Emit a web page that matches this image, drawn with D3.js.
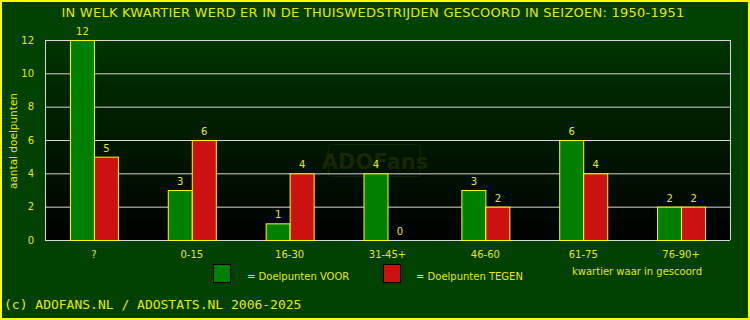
<!DOCTYPE html>
<html><head><meta charset="utf-8">
<script src="https://cdn.jsdelivr.net/npm/d3@7"></script>
<style>html,body{margin:0;padding:0;background:#004000;}svg{display:block;}</style>
</head><body>
<script>
const categories = ["?", "0-15", "16-30", "31-45+", "46-60", "61-75", "76-90+"];
const voor = [12, 3, 1, 4, 3, 6, 2];
const tegen = [5, 6, 4, 0, 2, 4, 2];
const yTicks = [0, 2, 4, 6, 8, 10, 12];
const title = "IN WELK KWARTIER WERD ER IN DE THUISWEDSTRIJDEN GESCOORD IN SEIZOEN: 1950-1951";

const W = 750, H = 320;
const m = {left: 45, right: 20, top: 40, bottom: 80};
const svg = d3.select("body").append("svg").attr("width", W).attr("height", H);
const yellow = "#ffff00", txt = "#e8e800";
const font = "DejaVu Sans, sans-serif";
const fs = 10;

svg.append("rect").attr("x", 0).attr("y", 0).attr("width", W).attr("height", H).attr("fill", "#004000");
svg.append("rect").attr("x", 1).attr("y", 1).attr("width", W - 2).attr("height", H - 2)
  .attr("fill", "none").attr("stroke", yellow).attr("stroke-width", 2);

const defs = svg.append("defs");
const grad = defs.append("linearGradient").attr("id", "bg").attr("x1", 0).attr("y1", 0).attr("x2", 0).attr("y2", 1);
grad.append("stop").attr("offset", "0%").attr("stop-color", "#003400");
grad.append("stop").attr("offset", "100%").attr("stop-color", "#000000");

const x = d3.scaleBand().domain(categories).range([m.left, W - m.right]);
const y = d3.scaleLinear().domain([0, 12]).range([H - m.bottom, m.top]);
const bw = 24;

svg.append("rect").attr("x", m.left).attr("y", m.top).attr("width", W - m.left - m.right)
  .attr("height", H - m.top - m.bottom).attr("fill", "url(#bg)");

// watermark
const wm = svg.append("g").attr("opacity", 0.16);
wm.append("rect").attr("x", 328.5).attr("y", 144.5).attr("width", 92).attr("height", 32).attr("rx", 3)
  .attr("fill", "none").attr("stroke", "#707000");
wm.append("text").attr("x", 375).attr("y", 169).attr("text-anchor", "middle")
  .attr("font-family", font).attr("font-weight", "bold").attr("font-size", 21)
  .attr("fill", "#8a8a00").text("ADOFans");

// grid
svg.append("g").selectAll("line").data(yTicks).join("line")
  .attr("x1", m.left).attr("x2", W - m.right)
  .attr("y1", d => y(d) + 0.5).attr("y2", d => y(d) + 0.5)
  .attr("stroke", "#d8d8d8").attr("stroke-width", 1);
svg.append("line").attr("x1", m.left + 0.5).attr("x2", m.left + 0.5).attr("y1", y(12)).attr("y2", y(0))
  .attr("stroke", "#d8d8d8");
svg.append("line").attr("x1", W - m.right + 0.5).attr("x2", W - m.right + 0.5).attr("y1", y(12)).attr("y2", y(0))
  .attr("stroke", "#d8d8d8");

// y axis labels
const yAxis = d3.axisLeft(y).tickValues(yTicks).tickSize(0).tickPadding(11);
const ya = svg.append("g").attr("transform", `translate(${m.left},0)`).call(yAxis);
ya.select(".domain").remove();
ya.selectAll("text").attr("fill", txt).attr("font-family", font).attr("font-size", fs);

// x axis labels
const xAxis = d3.axisBottom(x).tickSize(0).tickPadding(11);
const xa = svg.append("g").attr("transform", `translate(0,${H - m.bottom})`).call(xAxis);
xa.select(".domain").remove();
xa.selectAll("text").attr("fill", txt).attr("font-family", font).attr("font-size", fs);

// bars
const cx = d => x(d) + x.bandwidth() / 2;
const g = svg.append("g");
g.selectAll(".v").data(categories).join("rect")
  .attr("x", (d) => cx(d) - bw + 0.5).attr("width", bw)
  .attr("y", (d, i) => y(voor[i]) + 0.5).attr("height", (d, i) => y(0) - y(voor[i]))
  .attr("fill", "#008000").attr("stroke", yellow).attr("stroke-width", 1);
g.selectAll(".t").data(categories).join("rect")
  .attr("x", (d) => cx(d) + 0.5).attr("width", bw)
  .attr("y", (d, i) => y(tegen[i]) + 0.5).attr("height", (d, i) => y(0) - y(tegen[i]))
  .attr("fill", "#cc1111").attr("stroke", yellow).attr("stroke-width", 1)
  .attr("display", (d, i) => tegen[i] === 0 ? "none" : null);

// value labels
svg.append("g").selectAll("text").data(categories).join("text")
  .attr("x", d => cx(d) - bw / 2 + 0.5).attr("y", (d, i) => y(voor[i]) - 5)
  .attr("text-anchor", "middle").attr("fill", txt).attr("font-family", font).attr("font-size", fs)
  .text((d, i) => voor[i]);
svg.append("g").selectAll("text").data(categories).join("text")
  .attr("x", d => cx(d) + bw / 2 + 0.5).attr("y", (d, i) => y(tegen[i]) - 5)
  .attr("text-anchor", "middle").attr("fill", txt).attr("font-family", font).attr("font-size", fs)
  .text((d, i) => tegen[i]);

// title
svg.append("text").attr("x", 373).attr("y", 17).attr("text-anchor", "middle")
  .attr("fill", txt).attr("font-family", font).attr("font-size", 13).attr("letter-spacing", 0.25)
  .text(title);

// y title
svg.append("text").attr("transform", "translate(17,141) rotate(-90)").attr("text-anchor", "middle")
  .attr("fill", txt).attr("font-family", font).attr("font-size", 10.5).text("aantal doelpunten");

// legend
svg.append("rect").attr("x", 213.5).attr("y", 264.5).attr("width", 17).attr("height", 18)
  .attr("fill", "#008000").attr("stroke", "#000");
svg.append("text").attr("x", 247).attr("y", 280).attr("fill", txt).attr("font-family", font)
  .attr("font-size", fs).text("= Doelpunten VOOR");
svg.append("rect").attr("x", 383.5).attr("y", 264.5).attr("width", 17).attr("height", 18)
  .attr("fill", "#cc1111").attr("stroke", "#000");
svg.append("text").attr("x", 416).attr("y", 280).attr("fill", txt).attr("font-family", font)
  .attr("font-size", fs).text("= Doelpunten TEGEN");
svg.append("text").attr("x", 572).attr("y", 275).attr("fill", txt).attr("font-family", font)
  .attr("font-size", fs).text("kwartier waar in gescoord");

// footer
svg.append("text").attr("x", 4).attr("y", 309).attr("fill", txt)
  .attr("font-family", "DejaVu Sans Mono, monospace").attr("font-size", 13)
  .text("(c) ADOFANS.NL / ADOSTATS.NL 2006-2025");
</script>
</body></html>
